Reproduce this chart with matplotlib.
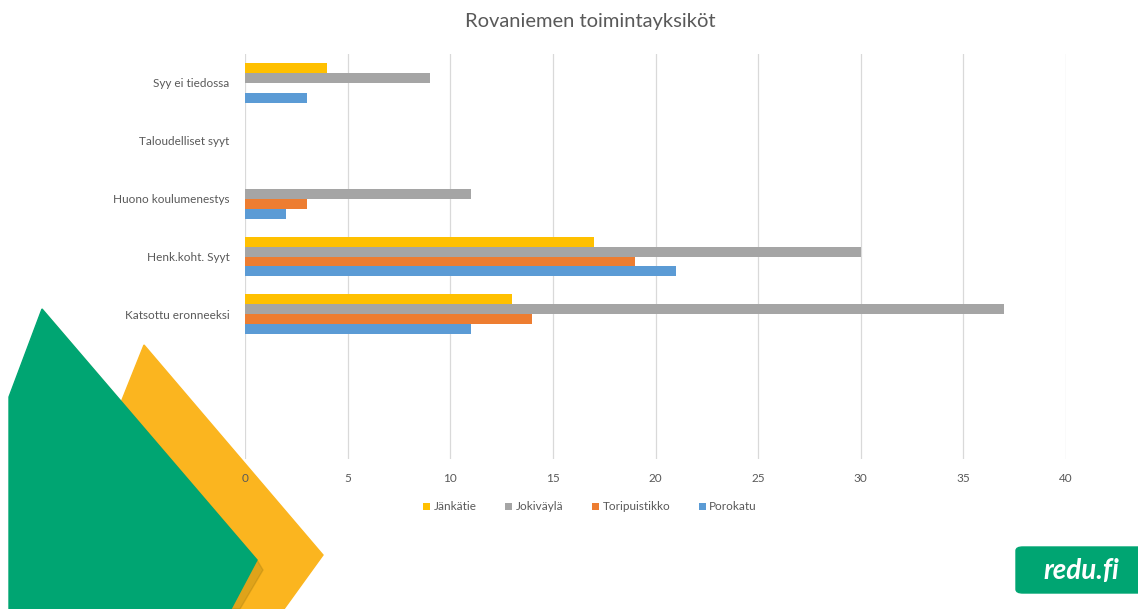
import matplotlib.pyplot as plt
import numpy as np
from matplotlib.patches import Polygon, FancyBboxPatch

plt.rcParams['font.family'] = ['Lato', 'DejaVu Sans']

# kategoriat alhaalta ylös (kaksi tyhjää paikkaa alimpana)
categories = ['', '', 'Katsottu eronneeksi', 'Henk.koht. Syyt',
              'Huono koulumenestys', 'Taloudelliset syyt', 'Syy ei tiedossa']
series = ['Jänkätie', 'Jokiväylä', 'Toripuistikko', 'Porokatu']
jankatie = [0, 0, 13, 17, 0, 0, 4]
jokivayla = [0, 0, 37, 30, 11, 0, 9]
toripuistikko = [0, 0, 14, 19, 3, 0, 0]
porokatu = [0, 0, 11, 21, 2, 0, 3]
colors = ['#FFC000', '#A5A5A5', '#ED7D31', '#5B9BD5']
xticks = [0, 5, 10, 15, 20, 25, 30, 35, 40]

fig = plt.figure(figsize=(11.38, 6.09), dpi=100)

# taustakoristeet (kuviot vasemmassa alakulmassa)
W, H = 1138, 609
def px(pts):
    return [(x / W, 1 - y / H) for x, y in pts]

fig.patches.append(Polygon(px([(144, 345), (323, 555), (284, 609), (150, 609), (110, 430)]),
                           closed=True, transform=fig.transFigure, color='#FBB51F', zorder=0))
fig.patches.append(Polygon(px([(42, 309), (257, 560), (263, 570), (240, 609), (160, 609), (140, 430)]),
                           closed=True, transform=fig.transFigure, color='#A07A10', alpha=0.3, zorder=0))
fig.patches.append(Polygon(px([(42, 309), (257, 560), (231, 609), (9, 609), (9, 397)]),
                           closed=True, transform=fig.transFigure, color='#00A572', zorder=0))

# redu.fi logo
fig.patches.append(FancyBboxPatch((1016 / W, 1 - 593 / H), 140 / W, 46 / H,
                                  boxstyle='round,pad=0,rounding_size=0.006',
                                  transform=fig.transFigure, color='#00A572', zorder=0))
fig.text(1081 / W, 1 - 571 / H, 'redu.fi', color='white', fontsize=20,
         fontweight='bold', style='italic', ha='center', va='center')

ax = fig.add_axes([245 / W, 1 - 459 / H, (1066 - 245) / W, (459 - 54) / H])
ax.set_zorder(2)
ax.patch.set_alpha(0)

y = np.arange(len(categories))
h = 0.172
values = [jankatie, jokivayla, toripuistikko, porokatu]
for i, (name, vals, c) in enumerate(zip(series, values, colors)):
    ax.barh(y + (1.5 - i) * h, vals, height=h, color=c, label=name, zorder=3)

ax.set_xlim(0, 40)
ax.set_ylim(-0.5, len(categories) - 0.5)
ax.set_xticks(xticks)
ax.set_yticks(y)
ax.set_yticklabels(categories)
ax.grid(axis='x', color='#D9D9D9', linewidth=0.9, zorder=0)
for s in ax.spines.values():
    s.set_visible(False)
ax.tick_params(axis='both', length=0, colors='#595959', labelsize=8.5)
ax.tick_params(axis='x', pad=10)
ax.tick_params(axis='y', pad=11)

fig.text(590 / W, 1 - 22 / H, 'Rovaniemen toimintayksiköt', color='#595959',
         fontsize=14.5, ha='center', va='center')

leg = fig.legend(loc='center', bbox_to_anchor=(590 / W, 1 - 507 / H), ncol=4,
                 frameon=False, fontsize=8.5, handlelength=0.6, handleheight=0.6,
                 handletextpad=0.3, columnspacing=2.4)
for t in leg.get_texts():
    t.set_color('#595959')

fig.savefig('out.png', dpi=100)
